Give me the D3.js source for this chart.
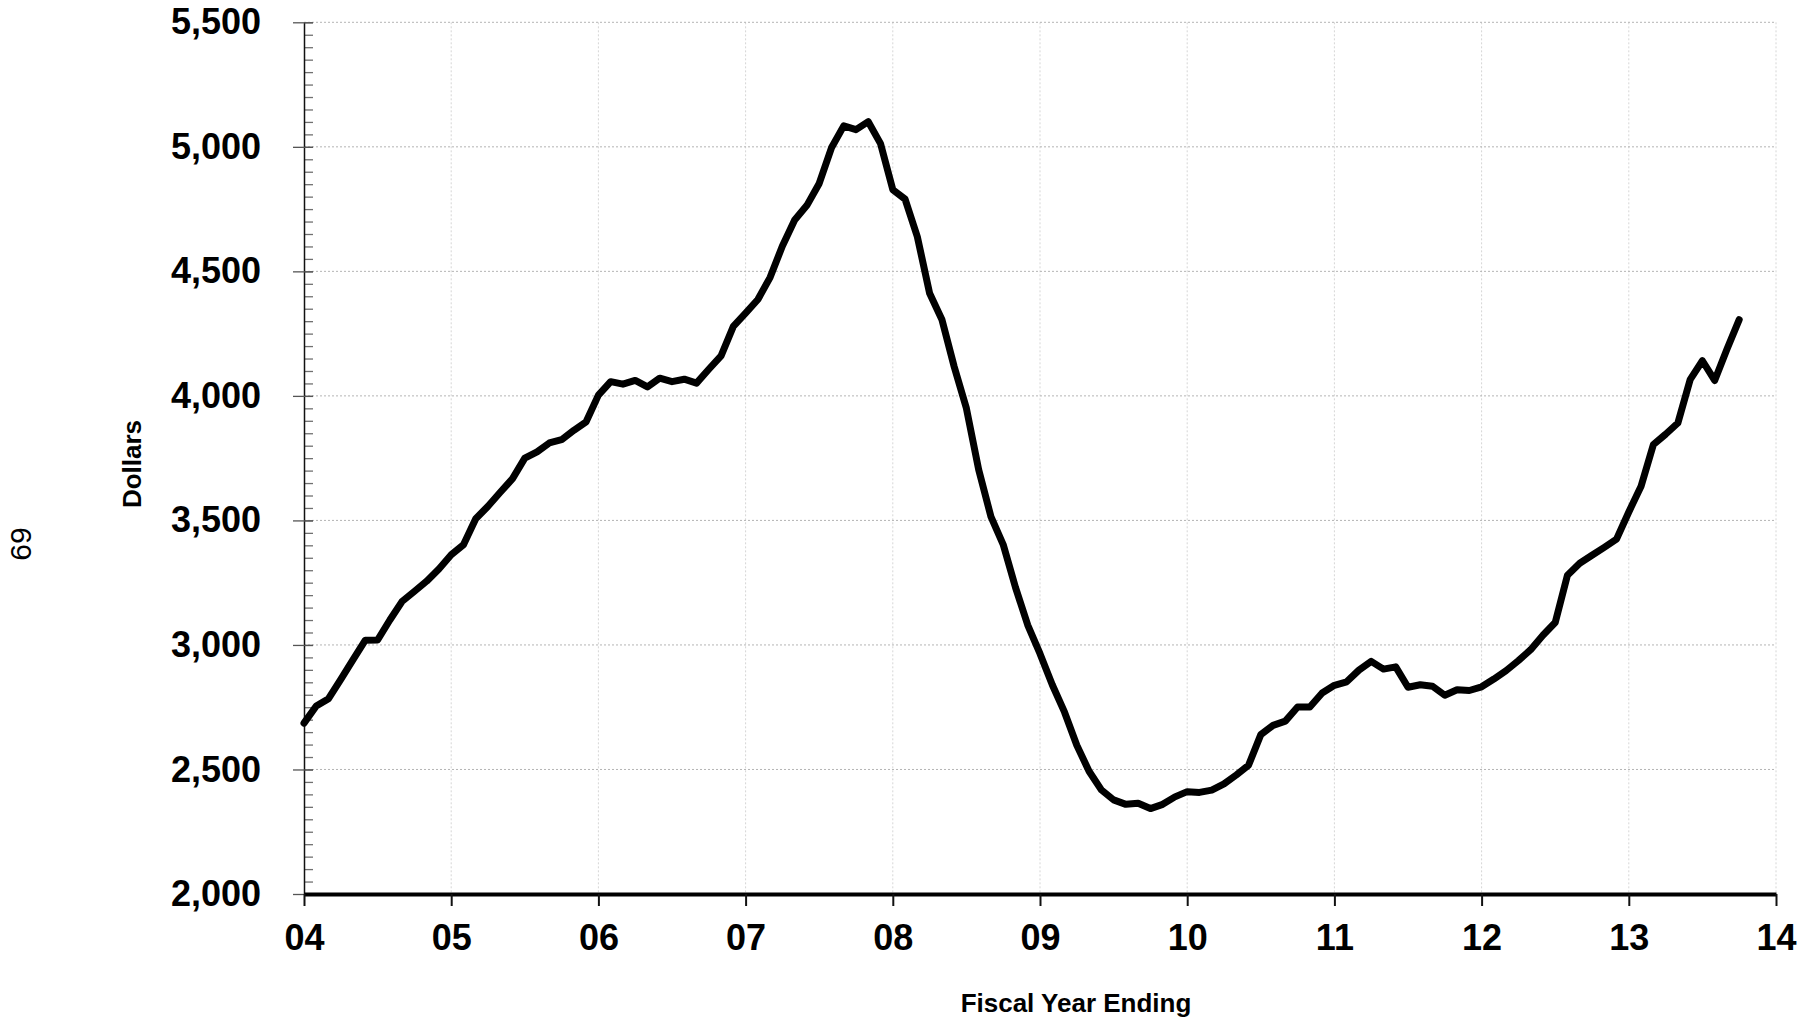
<!DOCTYPE html>
<html>
<head>
<meta charset="utf-8">
<script src="https://cdn.jsdelivr.net/npm/d3@7"></script>
<style>
  html, body { margin: 0; padding: 0; background: #ffffff; }
  svg { display: block; font-family: "Liberation Sans", Arial, sans-serif; }
</style>
</head>
<body>
<div id="chart"></div>
<script>
// Monthly values in dollars, first point at start of FY04, one per month
const startYear = 4;
const dollars = [
    2686, 2755, 2784, 2862, 2941, 3019, 3020, 3100, 3175, 3215, 3256, 3305,
    3362, 3402, 3507, 3557, 3613, 3668, 3750, 3775, 3811, 3824, 3862, 3896,
    4003, 4057, 4047, 4062, 4036, 4071, 4057, 4067, 4051, 4107, 4161, 4279,
    4332, 4387, 4476, 4602, 4706, 4765, 4853, 4996, 5084, 5069, 5101, 5013,
    4828, 4790, 4639, 4412, 4307, 4118, 3950, 3704, 3515, 3403, 3231, 3080,
    2965, 2840, 2730, 2597, 2493, 2418, 2378, 2360, 2364, 2343, 2360, 2390,
    2411, 2408, 2417, 2442, 2478, 2517, 2640, 2677, 2694, 2751, 2751, 2807,
    2838, 2852, 2899, 2934, 2903, 2912, 2830, 2840, 2834, 2798, 2820, 2817,
    2832, 2863, 2897, 2937, 2981, 3039, 3090, 3280, 3328, 3360, 3392, 3425,
    3534, 3637, 3804, 3846, 3891, 4065, 4141, 4062, 4187, 4306
];

const xTickValues = [4, 5, 6, 7, 8, 9, 10, 11, 12, 13, 14];
const xTickLabels = ["04", "05", "06", "07", "08", "09", "10", "11", "12", "13", "14"];
const yTickValues = [2000, 2500, 3000, 3500, 4000, 4500, 5000, 5500];
const yMinorStep = 50;

const width = 1809, height = 1019;
const plot = { left: 304, right: 1776, top: 22.3, bottom: 894 };

const svg = d3.select("#chart")
    .append("svg")
    .attr("width", width)
    .attr("height", height);

const x = d3.scaleLinear().domain([4, 14]).range([plot.left, plot.right]);
const y = d3.scaleLinear().domain([2000, 5500]).range([plot.bottom, plot.top]);

// gridlines
svg.append("g")
    .selectAll("line")
    .data(xTickValues.slice(1))
    .join("line")
    .attr("x1", d => x(d)).attr("x2", d => x(d))
    .attr("y1", plot.top).attr("y2", plot.bottom)
    .attr("stroke", "#d6d6d6")
    .attr("stroke-width", 1)
    .attr("stroke-dasharray", "2,2");

svg.append("g")
    .selectAll("line")
    .data(yTickValues.slice(1))
    .join("line")
    .attr("x1", plot.left).attr("x2", plot.right)
    .attr("y1", d => y(d)).attr("y2", d => y(d))
    .attr("stroke", "#b4b4b4")
    .attr("stroke-width", 1)
    .attr("stroke-dasharray", "2,2");

// minor ticks on the inside of the y axis
const minorTicks = d3.range(2000, 5500 + 1, yMinorStep);
svg.append("g")
    .attr("transform", `translate(${plot.left},0)`)
    .call(d3.axisRight(y).tickValues(minorTicks).tickSize(9).tickFormat(""))
    .call(g => g.select(".domain").remove())
    .call(g => g.selectAll(".tick line").attr("stroke", "#707070").attr("stroke-width", 1.3));

// y axis with major ticks crossing the axis
const yAxis = svg.append("g")
    .attr("transform", `translate(${plot.left},0)`)
    .call(d3.axisLeft(y)
        .tickValues(yTickValues)
        .tickSize(11)
        .tickSizeOuter(0)
        .tickPadding(32)
        .tickFormat(d3.format(",")));
yAxis.select(".domain").attr("stroke", "#111").attr("stroke-width", 1.5);
yAxis.selectAll(".tick line")
    .attr("x2", 9)
    .attr("x1", -11)
    .attr("stroke", "#555")
    .attr("stroke-width", 1.3);
yAxis.selectAll(".tick text")
    .attr("fill", "#000")
    .style("font-size", "36px")
    .style("font-weight", "bold");

// x axis
const xAxis = svg.append("g")
    .attr("transform", `translate(0,${plot.bottom})`)
    .call(d3.axisBottom(x)
        .tickValues(xTickValues)
        .tickSize(12)
        .tickSizeOuter(0)
        .tickPadding(18)
        .tickFormat((d, i) => xTickLabels[i]));
xAxis.select(".domain").attr("stroke", "#000").attr("stroke-width", 4);
xAxis.selectAll(".tick line").attr("stroke", "#111").attr("stroke-width", 2);
xAxis.selectAll(".tick text")
    .attr("fill", "#000")
    .style("font-size", "36px")
    .style("font-weight", "bold");

// the series
const line = d3.line()
    .x((d, i) => x(startYear + i / 12))
    .y(d => y(d));

svg.append("path")
    .datum(dollars)
    .attr("d", line)
    .attr("fill", "none")
    .attr("stroke", "#000")
    .attr("stroke-width", 7)
    .attr("stroke-linejoin", "round")
    .attr("stroke-linecap", "round");

// axis titles
svg.append("text")
    .attr("x", 1076)
    .attr("y", 1012)
    .attr("text-anchor", "middle")
    .style("font-size", "26px")
    .style("font-weight", "bold")
    .text("Fiscal Year Ending");

svg.append("text")
    .attr("transform", "translate(141,464) rotate(-90)")
    .attr("text-anchor", "middle")
    .style("font-size", "26px")
    .style("font-weight", "bold")
    .text("Dollars");

// page number
svg.append("text")
    .attr("transform", "translate(31,544) rotate(-90)")
    .attr("text-anchor", "middle")
    .style("font-size", "30px")
    .text("69");
</script>
</body>
</html>
